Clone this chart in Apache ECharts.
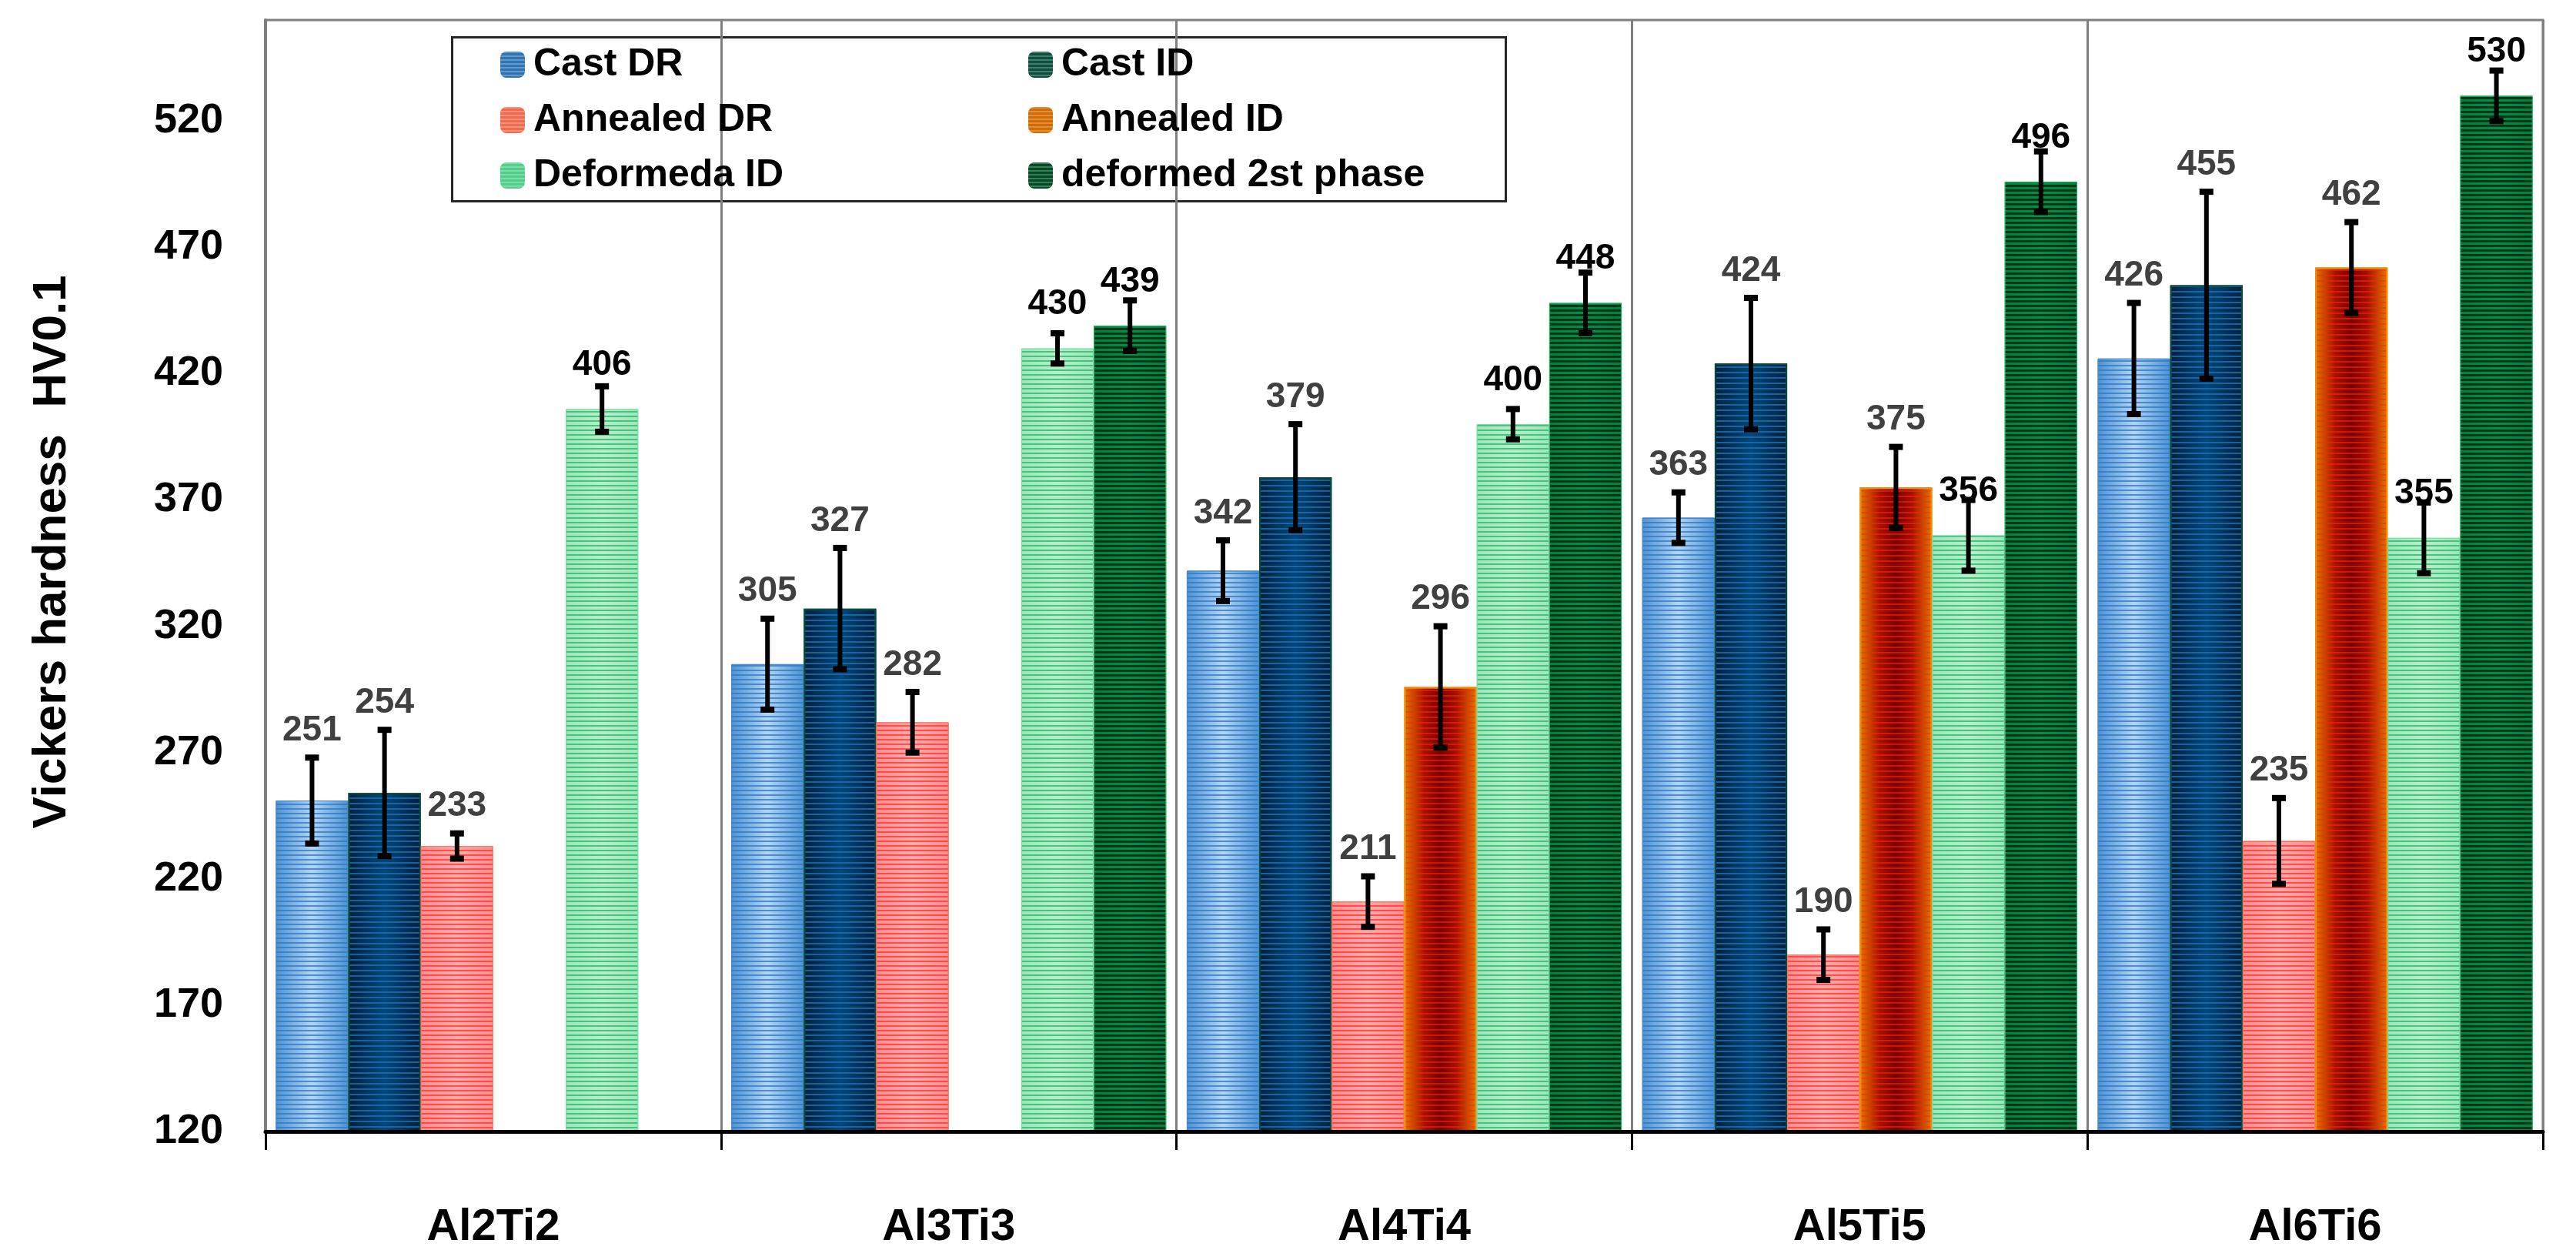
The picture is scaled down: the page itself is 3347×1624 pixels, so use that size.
<!DOCTYPE html>
<html>
<head>
<meta charset="utf-8">
<script src="https://cdn.jsdelivr.net/npm/echarts@6/dist/echarts.min.js"></script>
<style>html,body{margin:0;padding:0;background:#fff}#c{width:3347px;height:1624px}</style>
</head>
<body>
<div id="c"></div>
<script>
// ---- data ----
const categories = ['Al2Ti2', 'Al3Ti3', 'Al4Ti4', 'Al5Ti5', 'Al6Ti6'];
const seriesNames = ['Cast DR', 'Cast ID', 'Annealed DR', 'Annealed ID', 'Deformeda ID', 'deformed 2st phase'];
const castDR      = [251, 305, 342, 363, 426];
const castID      = [254, 327, 379, 424, 455];
const annealedDR  = [233, 282, 211, 190, 235];
const annealedID  = [null, null, 296, 375, 462];
const deformedID  = [406, 430, 400, 356, 355];
const deformed2nd = [null, 439, 448, 496, 530];
const castDRErr      = [17, 18, 12, 10, 22];
const castIDErr      = [25, 24, 21, 26, 37];
const annealedDRErr  = [5, 12, 10, 10, 17];
const annealedIDErr  = [null, null, 24, 16, 18];
const deformedIDErr  = [9, 6, 6, 14, 14];
const deformed2ndErr = [null, 10, 12, 12, 10];
const yTickLabels = [120, 170, 220, 270, 320, 370, 420, 470, 520];

const values = [castDR, castID, annealedDR, annealedID, deformedID, deformed2nd];
const errors = [castDRErr, castIDErr, annealedDRErr, annealedIDErr, deformedIDErr, deformed2ndErr];

// ---- styles ----
const FONT = '"Liberation Sans", Arial, sans-serif';
const CAT_GAP = 0.045;
function hgrad(stops) {
  return {type: 'linear', x: 0, y: 0, x2: 1, y2: 0,
    colorStops: stops.map(s => ({offset: s[0], color: s[1]}))};
}
function stripes(color, on, off) {
  return {symbol: 'rect', symbolSize: 1, dashArrayX: [1, 0], dashArrayY: [on, off], rotation: 0, color: color};
}
const barStyles = [
  {color: hgrad([[0, '#4f92d2'], [0.5, '#b4d5f2'], [1, '#4f92d2']]), decal: stripes('rgba(40,120,200,0.75)', 2, 4), borderColor: '#4a8ccc', borderWidth: 1},
  {color: hgrad([[0, '#00203c'], [0.5, '#00487c'], [1, '#00203c']]), decal: stripes('rgba(30,110,180,0.8)', 2, 5), borderColor: '#0a4a3c', borderWidth: 2},
  {color: hgrad([[0, '#ff8f8f'], [0.5, '#ffaaaa'], [1, '#ff8f8f']]), decal: stripes('rgba(255,50,50,0.75)', 2, 4), borderColor: '#ff7a66', borderWidth: 1},
  {color: hgrad([[0, '#e07800'], [0.28, '#a81000'], [0.5, '#7a0000'], [0.72, '#a81000'], [1, '#e07800']]), decal: stripes('rgba(255,40,0,0.55)', 2, 5), borderColor: '#f08c00', borderWidth: 2},
  {color: hgrad([[0, '#9fe6bc'], [0.5, '#b6eecb'], [1, '#9fe6bc']]), decal: stripes('rgba(50,190,110,0.85)', 2, 4), borderColor: '#7fdca5', borderWidth: 1},
  {color: hgrad([[0, '#00803e'], [0.5, '#009048'], [1, '#00803e']]), decal: stripes('rgba(0,40,18,0.85)', 3, 3), borderColor: '#20b060', borderWidth: 1}
];
const legendColors = ['#2f75b5', '#0b4f3e', '#f26b4f', '#d36b00', '#52d08a', '#004d25'];
const labelColors = ['#404040', '#404040', '#404040', '#404040', '#000000', '#000000'];

// ---- build series ----
const barSeries = values.map((vals, i) => ({
  name: seriesNames[i],
  type: 'bar',
  data: vals,
  barGap: '0%',
  barCategoryGap: (CAT_GAP * 100) + '%',
  itemStyle: barStyles[i],
  emphasis: {disabled: true},
  z: 2
}));

const errData = [];
values.forEach((vals, s) => {
  vals.forEach((v, c) => {
    if (v != null) errData.push([c, s, v, errors[s][c]]);
  });
});

const errSeries = {
  type: 'custom',
  name: 'err',
  data: errData,
  z: 5,
  clip: false,
  silent: true,
  encode: {x: 0, y: 2},
  renderItem: function (params, api) {
    const c = api.value(0), s = api.value(1), v = api.value(2), e = api.value(3);
    const band = api.size([1, 0])[0];
    const used = band * (1 - CAT_GAP);
    const bw = used / 6;
    const center = api.coord([c, v]);
    const cx = center[0] - used / 2 + bw * (s + 0.5);
    const yBar = center[1];
    const yTop = api.coord([c, v + e])[1];
    const yBot = api.coord([c, v - e])[1];
    const cap = 9;
    const ls = {stroke: '#000', lineWidth: 6};
    const ly = s >= 4 ? yBar - 34 : yTop - 12;
    return {
      type: 'group',
      children: [
        {type: 'line', shape: {x1: cx, y1: yTop, x2: cx, y2: yBot}, style: ls},
        {type: 'line', shape: {x1: cx - cap, y1: yTop, x2: cx + cap, y2: yTop}, style: {stroke: '#000', lineWidth: 8}},
        {type: 'line', shape: {x1: cx - cap, y1: yBot, x2: cx + cap, y2: yBot}, style: {stroke: '#000', lineWidth: 8}},
        {type: 'text', x: cx, y: ly, style: {
          text: String(v), fill: labelColors[s],
          font: 'bold 46px ' + FONT,
          align: 'center', verticalAlign: 'bottom',
          textAlign: 'center', textVerticalAlign: 'bottom'
        }}
      ]
    };
  }
};

const legendTextStyle = {fontSize: 50, fontWeight: 'bold', fontFamily: FONT, color: '#000', padding: [0, 0, 0, 6]};
function legendData(idx) {
  return idx.map(i => ({name: seriesNames[i], itemStyle: {color: legendColors[i], borderWidth: 0,
    decal: stripes('rgba(255,255,255,0.25)', 2, 3)}}));
}

const option = {
  backgroundColor: '#fff',
  animation: false,
  aria: {enabled: true, decal: {show: true}},
  grid: {left: 345, right: 43, top: 26, bottom: 153, show: true, borderColor: '#7f7f7f', borderWidth: 3, containLabel: false},
  graphic: [{
    type: 'rect', left: 586, top: 47, z: 3,
    shape: {width: 1369, height: 213},
    style: {fill: '#fff', stroke: '#262626', lineWidth: 3}
  }],
  legend: [
    {orient: 'vertical', left: 650, top: 59, itemWidth: 32, itemHeight: 34, itemGap: 22, padding: 0,
     textStyle: legendTextStyle, data: legendData([0, 2, 4]), selectedMode: false, z: 5},
    {orient: 'vertical', left: 1336, top: 59, itemWidth: 32, itemHeight: 34, itemGap: 22, padding: 0,
     textStyle: legendTextStyle, data: legendData([1, 3, 5]), selectedMode: false, z: 5}
  ],
  xAxis: {
    type: 'category',
    data: categories,
    z: 3,
    axisLine: {show: true, lineStyle: {color: '#000', width: 5}},
    axisTick: {show: true, alignWithLabel: false, interval: 0, length: 24, lineStyle: {color: '#000', width: 3}},
    splitLine: {show: true, interval: 0, lineStyle: {color: '#7f7f7f', width: 3}},
    axisLabel: {margin: 96, fontSize: 58, fontWeight: 'bold', fontFamily: FONT, color: '#000'}
  },
  yAxis: {
    type: 'value',
    min: 120, max: 560, interval: 10,
    name: 'Vickers hardness  HV0.1',
    nameLocation: 'middle',
    nameRotate: 90,
    nameGap: 246,
    nameTextStyle: {fontSize: 62, fontWeight: 'bold', fontFamily: FONT, color: '#000', padding: [0, 0, 0, 62]},
    axisLine: {show: true, lineStyle: {color: '#7f7f7f', width: 4}},
    axisTick: {show: false},
    splitLine: {show: false},
    axisLabel: {
      margin: 55, fontSize: 54, fontWeight: 'bold', fontFamily: FONT, color: '#000',
      showMaxLabel: false,
      formatter: function (v) { return yTickLabels.indexOf(v) >= 0 ? String(v) : ''; }
    }
  },
  series: barSeries.concat([errSeries])
};

const chart = echarts.init(document.getElementById('c'));
chart.setOption(option);
</script>
</body>
</html>
